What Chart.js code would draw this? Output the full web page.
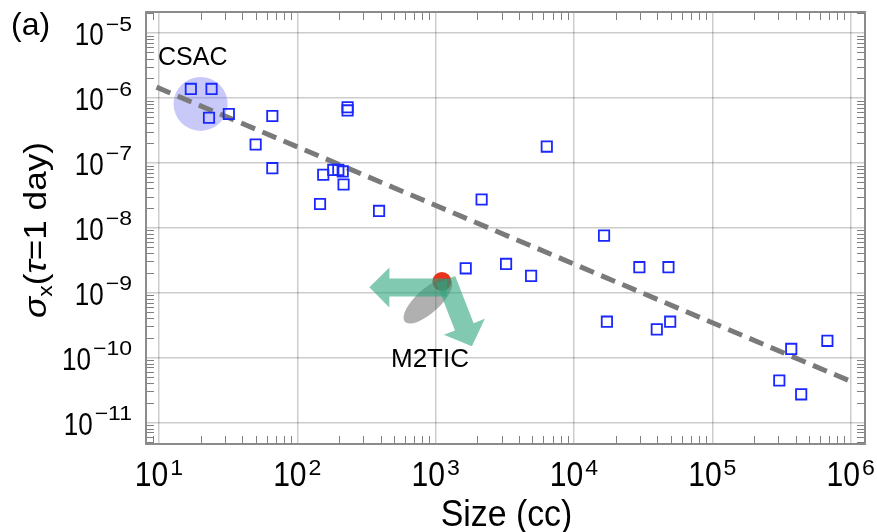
<!DOCTYPE html>
<html>
<head>
<meta charset="utf-8">
<script src="https://cdn.jsdelivr.net/npm/chart.js@4.4.0/dist/chart.umd.min.js"></script>
<style>
  html, body { margin: 0; background: #fff; }
</style>
</head>
<body>
<canvas id="c" width="877" height="532"></canvas>
<script>
// Clock size vs. one-day stability (blue squares)
const sizeCC = [17, 24, 23, 32, 66, 50, 66, 231, 231, 154, 182, 198, 213, 216, 146, 390,
  2150, 1650, 3230, 4900, 6360, 16500, 29700, 48200, 17300, 39700, 49600,
  372000, 679000, 305000, 439000];
const sigmaDay = [1.36e-6, 1.36e-6, 4.9e-7, 5.6e-7, 5.2e-7, 1.9e-7, 8.2e-8, 7.1e-7, 6.35e-7,
  6.5e-8, 7.7e-8, 7.7e-8, 7.3e-8, 4.6e-8, 2.3e-8, 1.8e-8,
  2.7e-8, 2.35e-9, 2.75e-9, 1.8e-9, 1.76e-7, 7.5e-9, 2.45e-9, 2.45e-9, 3.55e-10, 2.7e-10, 3.55e-10,
  1.35e-10, 1.8e-10, 4.4e-11, 2.7e-11];

// Trend (dashed) line end points
const fitX = [9.6, 1.05e6];
const fitY = [1.45e-6, 4.1e-11];

// M2TIC point and its annotations
const m2ticX = [1110];
const m2ticY = [1.47e-9];
const arrowLeftTip = [332, 1.2e-9];
const arrowDownTip = [1830, 1.48e-10];
const cloudCenter = [880, 7.4e-10];
const csacCenter = [20, 8.0e-7];

// Axis ranges and tick labels (powers of ten)
const xRange = [8.06, 1.27e6];
const yRange = [4.64e-12, 2.08e-5];
const xTickExps = [1, 2, 3, 4, 5, 6];
const yTickExps = [-5, -6, -7, -8, -9, -10, -11];

const SANS = '"Liberation Sans", Arial, sans-serif';

function expText(e) {
  return e < 0 ? '\u2212' + Math.abs(e) : String(e);
}

// text squeezed/stretched horizontally
function textW(ctx, t, font, sx) {
  ctx.font = font;
  return ctx.measureText(t).width * sx;
}
function drawText(ctx, t, font, sx, x, y) {
  ctx.save();
  ctx.font = font;
  ctx.translate(x, y);
  ctx.scale(sx, 1);
  ctx.fillText(t, 0, 0);
  ctx.restore();
}

function powLabel(ctx, e, x, baseY, o) {
  const t = expText(e);
  const wb = textW(ctx, '10', o.base, o.bs);
  const we = textW(ctx, t, o.sup, o.ss);
  const total = wb + o.gap + we;
  const left = o.align === 'right' ? x - total : x - total / 2;
  drawText(ctx, '10', o.base, o.bs, left, baseY);
  drawText(ctx, t, o.sup, o.ss, left + wb + o.gap, baseY - o.raise);
}

function arrow(ctx, x0, y0, x1, y1, shaft, head, headLen) {
  const a = Math.atan2(y1 - y0, x1 - x0);
  const L = Math.hypot(x1 - x0, y1 - y0);
  ctx.save();
  ctx.translate(x0, y0);
  ctx.rotate(a);
  ctx.beginPath();
  ctx.moveTo(0, -shaft);
  ctx.lineTo(L - headLen, -shaft);
  ctx.lineTo(L - headLen, -head);
  ctx.lineTo(L, 0);
  ctx.lineTo(L - headLen, head);
  ctx.lineTo(L - headLen, shaft);
  ctx.lineTo(0, shaft);
  ctx.closePath();
  ctx.fill();
  ctx.restore();
}

const decor = {
  id: 'decor',
  beforeDatasetsDraw(chart) {
    const { ctx } = chart;
    const xs = chart.scales.x, ys = chart.scales.y;
    ctx.save();
    ctx.fillStyle = 'rgba(118,120,238,0.4)';
    ctx.beginPath();
    ctx.arc(xs.getPixelForValue(csacCenter[0]), ys.getPixelForValue(csacCenter[1]), 27, 0, Math.PI * 2);
    ctx.fill();
    ctx.restore();
  },
  afterDatasetsDraw(chart) {
    const { ctx } = chart;
    const xs = chart.scales.x, ys = chart.scales.y;
    const px = xs.getPixelForValue(m2ticX[0]);
    const py = ys.getPixelForValue(m2ticY[0]);
    ctx.save();
    // gray uncertainty cloud
    ctx.fillStyle = 'rgba(80,80,80,0.45)';
    ctx.beginPath();
    ctx.ellipse(xs.getPixelForValue(cloudCenter[0]), ys.getPixelForValue(cloudCenter[1]),
      31, 12, -42 * Math.PI / 180, 0, Math.PI * 2);
    ctx.fill();
    // green arrows
    ctx.fillStyle = 'rgba(46,165,125,0.6)';
    arrow(ctx, px + 5, py + 6, xs.getPixelForValue(arrowLeftTip[0]), ys.getPixelForValue(arrowLeftTip[1]), 9, 20, 20);
    arrow(ctx, px + 4, py - 2, xs.getPixelForValue(arrowDownTip[0]), ys.getPixelForValue(arrowDownTip[1]), 10, 22, 21);
    ctx.restore();
  },
  afterDraw(chart) {
    const { ctx, chartArea: ca } = chart;
    const xs = chart.scales.x, ys = chart.scales.y;
    ctx.save();
    // minor ticks on all four sides
    ctx.strokeStyle = '#808080';
    ctx.lineWidth = 1;
    ctx.beginPath();
    for (let n = -12; n <= -5; n++) {
      for (let k = 2; k <= 9; k++) {
        const v = k * Math.pow(10, n);
        if (v <= yRange[0] || v >= yRange[1]) continue;
        const y = Math.round(ys.getPixelForValue(v)) + 0.5;
        ctx.moveTo(ca.left, y); ctx.lineTo(ca.left + 8, y);
        ctx.moveTo(ca.right, y); ctx.lineTo(ca.right - 8, y);
      }
    }
    for (let n = 0; n <= 6; n++) {
      for (let k = 2; k <= 9; k++) {
        const v = k * Math.pow(10, n);
        if (v <= xRange[0] || v >= xRange[1]) continue;
        const x = Math.round(xs.getPixelForValue(v)) + 0.5;
        ctx.moveTo(x, ca.bottom); ctx.lineTo(x, ca.bottom - 8);
        ctx.moveTo(x, ca.top); ctx.lineTo(x, ca.top + 8);
      }
    }
    ctx.stroke();
    // frame
    ctx.strokeStyle = '#8c8c8c';
    ctx.lineWidth = 2;
    ctx.strokeRect(ca.left, ca.top, ca.right - ca.left, ca.bottom - ca.top);

    // tick labels
    ctx.fillStyle = '#000';
    ctx.textBaseline = 'alphabetic';
    ctx.textAlign = 'left';
    yTickExps.forEach(e => {
      const y = ys.getPixelForValue(Math.pow(10, e));
      powLabel(ctx, e, 132, y + 12.3, { base: '31px ' + SANS, bs: 0.84, sup: '20px ' + SANS, ss: 1.15, gap: 2, raise: 14.4, align: 'right' });
    });
    xTickExps.forEach(e => {
      const x = xs.getPixelForValue(Math.pow(10, e));
      powLabel(ctx, e, x, 486, { base: '35px ' + SANS, bs: 0.86, sup: '22px ' + SANS, ss: 1.05, gap: 2, raise: 11, align: 'center' });
    });

    // axis titles
    const xt = 'Size (cc)';
    const xtw = textW(ctx, xt, '36px ' + SANS, 0.94);
    drawText(ctx, xt, '36px ' + SANS, 0.94, (ca.left + ca.right) / 2 + 1 - xtw / 2, 526);

    ctx.save();
    ctx.translate(46, 230);
    ctx.rotate(-Math.PI / 2);
    ctx.scale(1.1, 1);
    const parts = [
      ['σ', 'italic 32px ' + SANS, 0],
      ['x', '21px ' + SANS, 6],
      ['(', '32px ' + SANS, 0],
      ['τ', 'italic 32px ' + SANS, 0],
      ['=1 day)', '32px ' + SANS, 0],
    ];
    let w = 0;
    parts.forEach(p => { ctx.font = p[1]; w += ctx.measureText(p[0]).width; });
    let cx = -w / 2;
    parts.forEach(p => {
      ctx.font = p[1];
      ctx.fillText(p[0], cx, p[2]);
      cx += ctx.measureText(p[0]).width;
    });
    ctx.restore();

    // panel tag and annotations
    ctx.font = '32px ' + SANS;
    ctx.fillText('(a)', 11, 35);
    ctx.font = '25px ' + SANS;
    ctx.fillText('CSAC', 158, 65);
    ctx.font = '26px ' + SANS;
    ctx.fillText('M2TIC', 391, 367);
    ctx.restore();
  }
};

function isDecade(v) {
  const l = Math.log10(v);
  return Math.abs(l - Math.round(l)) < 1e-6;
}

const gridOpts = {
  color: c => (c.tick && isDecade(c.tick.value)) ? 'rgba(0,0,0,0.2)' : 'rgba(0,0,0,0)',
  lineWidth: 1.5,
  drawTicks: false,
};

new Chart(document.getElementById('c').getContext('2d'), {
  data: {
    datasets: [
      {
        type: 'scatter',
        data: m2ticX.map((x, i) => ({ x, y: m2ticY[i] })),
        pointStyle: 'circle',
        pointRadius: 9.5,
        backgroundColor: '#e8321e',
        borderWidth: 0,
      },
      {
        type: 'scatter',
        data: sizeCC.map((x, i) => ({ x, y: sigmaDay[i] })),
        pointStyle: 'rect',
        pointRadius: 7.3,
        backgroundColor: 'rgba(0,0,0,0)',
        borderColor: '#1a28ff',
        borderWidth: 1.8,
      },
      {
        type: 'line',
        data: fitX.map((x, i) => ({ x, y: fitY[i] })),
        borderColor: '#7a7a7a',
        borderWidth: 5,
        borderDash: [15, 8],
        pointRadius: 0,
        fill: false,
      },
    ],
  },
  options: {
    responsive: false,
    animation: false,
    layout: { padding: { left: 146, right: 12, top: 12, bottom: 88 } },
    plugins: { legend: { display: false }, tooltip: { enabled: false } },
    scales: {
      x: {
        type: 'logarithmic',
        min: xRange[0], max: xRange[1],
        ticks: { display: false },
        grid: gridOpts,
        border: { display: false },
      },
      y: {
        type: 'logarithmic',
        min: yRange[0], max: yRange[1],
        ticks: { display: false },
        grid: gridOpts,
        border: { display: false },
      },
    },
  },
  plugins: [decor],
});
</script>
</body>
</html>
